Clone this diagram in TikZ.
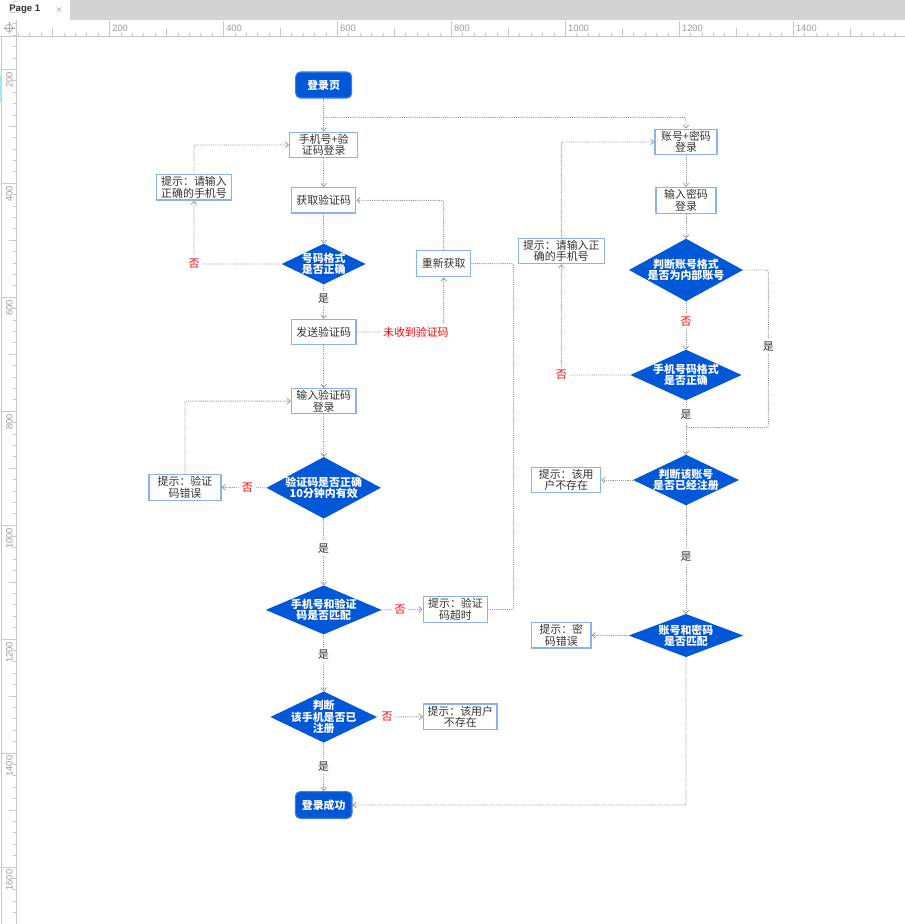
\documentclass[tikz,border=0pt]{standalone}
\usepackage{fontspec}
\setmainfont{Liberation Sans}
\newfontfamily\cjk{Noto Sans CJK SC}
\usetikzlibrary{arrows.meta,backgrounds,calc}
\definecolor{fcblue}{HTML}{0057D8}
\definecolor{termedge}{HTML}{3F7FE0}
\definecolor{boxblue}{HTML}{8CB2EE}
\definecolor{conngray}{HTML}{9A9A9A}
\definecolor{textdark}{HTML}{333333}
\definecolor{nored}{HTML}{FF0000}
\definecolor{tabgray}{HTML}{D3D3D3}
\definecolor{rulerln}{HTML}{C8C8C8}
\definecolor{rulertx}{HTML}{9A9A9A}
\tikzset{
  base/.style={inner sep=0pt, align=center, font=\cjk\fontsize{8.2}{8.6}\selectfont},
  wh/.style 2 args={minimum width=#1*0.75pt, minimum height=#2*0.75pt},
  box/.style={base, rectangle, draw=boxblue, line width=1pt, fill=white, text=textdark},
  term/.style={base, rectangle, rounded corners=3.5pt, fill=fcblue, draw=termedge, line width=0.8pt, text=white, font=\cjk\bfseries\fontsize{8.2}{8.6}\selectfont},
  dec/.style={base, rectangle, text=white, font=\cjk\bfseries\fontsize{8.2}{8.6}\selectfont},
  conn/.style={draw=conngray, line width=0.7pt, dash pattern=on 0.7pt off 0.7pt, rounded corners=1.5pt},
  arr/.style={conn, -{Straight Barb[length=2.4pt,width=4.2pt,line width=0.6pt]}},
  yes/.style={base, fill=white, inner sep=2pt, text=textdark},
  no/.style={yes, text=nored},
  rulerline/.style={draw=rulerln, line width=0.6pt},
  rulertext/.style={inner sep=0pt, text=rulertx, font=\fontsize{7}{8}\selectfont},
}
\begin{document}
\begin{tikzpicture}[x=0.75pt,y=-0.75pt]
\useasboundingbox (0,0) rectangle (905,924);
% ---------- editor chrome ----------
\fill[tabgray] (0,0) rectangle (905,20);
\fill[white] (0,0) rectangle (70,20);
\node[anchor=west, inner sep=0pt, text=textdark, font=\bfseries\fontsize{7.2}{8}\selectfont] (tab) at (9,9.5) {Page 1};
\node[inner sep=0pt, text=gray!70, font=\fontsize{8}{9}\selectfont] (tabx) at (59,10.5) {×};
\draw[rulerline] (0,36) -- (905,36);
\foreach \u in {20,40,...,1600} {
  \pgfmathsetmacro\xx{-4.35+0.5697*\u}
  \draw[rulerline] (\xx,32.7) -- (\xx,36);
}
\foreach \u in {100,300,...,1500} {
  \pgfmathsetmacro\xx{-4.35+0.5697*\u}
  \draw[rulerline] (\xx,28.5) -- (\xx,36);
}
\foreach \u in {200,400,...,1400} {
  \pgfmathsetmacro\xx{-4.35+0.5697*\u}
  \draw[rulerline] (\xx,21) -- (\xx,36);
  \node[rulertext, anchor=west] (hr\u) at (\xx+2.5,28.5) {\u};
}
\fill[white] (0,20) rectangle (16.7,36);
\draw[rulerline] (16.7,20) -- (16.7,924);
\draw[rulerline] (1.5,36) -- (1.5,924);
\foreach \u in {20,40,...,1700} {
  \pgfmathsetmacro\yy{-44.6+0.5697*\u}
  \draw[rulerline] (12.7,\yy) -- (16.7,\yy);
}
\foreach \u in {100,300,...,1700} {
  \pgfmathsetmacro\yy{-44.6+0.5697*\u}
  \draw[rulerline] (8.5,\yy) -- (16.7,\yy);
}
\foreach \u in {200,400,...,1600} {
  \pgfmathsetmacro\yy{-44.6+0.5697*\u}
  \draw[rulerline] (1.5,\yy) -- (16.7,\yy);
  \node[rulertext, rotate=90, anchor=east] (vr\u) at (9.5,\yy+2.5) {\u};
}
\draw[cyan!35, line width=1pt] (1,75) -- (1,102);
\draw[gray!70, line width=0.5pt] (9,28) circle[radius=3.8];
\draw[gray!70, line width=0.5pt] (3.5,28) -- (14.5,28) (9,22.5) -- (9,33.5);
% ---------- left column ----------
\node[term, wh={56}{26}] (start) at (323.7,85) {登录页};
\node[box, wh={68}{25.5}] (phone) at (323.7,145) {手机号+验\\证码登录};
\node[box, wh={74.6}{25.7}] (hint1) at (194,187.2) {提示：请输入\\正确的手机号};
\node[box, wh={64}{25.3}] (get) at (323.7,200.4) {获取验证码};
\node[dec, wh={83.4}{40}] (d1) at (323.7,264) {号码格式\\是否正确};
\node[box, wh={54}{26}] (again) at (443.7,263.7) {重新获取};
\node[box, wh={64.7}{25.3}] (send) at (323.7,332) {发送验证码};
\node[box, wh={64.4}{25}] (input) at (323.7,401.2) {输入验证码\\登录};
\node[dec, wh={113.7}{61}] (d2) at (323.7,487.8) {验证码是否正确\\10分钟内有效};
\node[box, wh={72}{26}] (errhint) at (185,487.3) {提示：验证\\码错误};
\node[dec, wh={115.4}{48.3}] (d3) at (323.7,609.9) {手机号和验证\\码是否匹配};
\node[box, wh={64.4}{25.6}] (timeout) at (455.5,609.5) {提示：验证\\码超时};
\node[dec, wh={106}{50.6}] (d4) at (323.7,717) {判断\\该手机是否已\\注册};
\node[box, wh={73.3}{25.7}] (nouser) at (460.3,716.8) {提示：该用户\\不存在};
\node[term, wh={56.6}{26.6}] (success) at (323.7,805) {登录成功};
% ---------- right column ----------
\node[box, wh={62}{25.4}] (acct) at (686,142) {账号+密码\\登录};
\node[box, wh={86}{25.4}] (hint2) at (561.3,251) {提示：请输入正\\确的手机号};
\node[box, wh={60}{25.6}] (pwd) at (686,200.5) {输入密码\\登录};
\node[dec, wh={113.3}{62}] (r1) at (686,270) {判断账号格式\\是否为内部账号};
\node[dec, wh={110.7}{50}] (r2) at (686,375) {手机号码格式\\是否正确};
\node[dec, wh={105.3}{50}] (r3) at (686,480) {判断该账号\\是否已经注册};
\node[box, wh={69}{25.4}] (nouser2) at (566.2,480) {提示：该用\\户不存在};
\node[dec, wh={114}{42.4}] (r4) at (686,635.5) {账号和密码\\是否匹配};
\node[box, wh={59.3}{25.3}] (pwderr) at (561.3,635.3) {提示：密\\码错误};
\begin{pgfonlayer}{background}
\foreach \n in {d1,d2,d3,d4,r1,r2,r3,r4}
  \fill[fcblue] (\n.north) -- (\n.east) -- (\n.south) -- (\n.west) -- cycle;
\end{pgfonlayer}
% ---------- connectors ----------
\coordinate (branch) at (323.7,117.3);
\coordinate (merge) at (686,427.7);
\coordinate (rturn) at (768.3,427.7);
\draw[arr] (start) -- (phone);
\draw[arr] (branch) -| (acct);
\draw[arr] (phone) -- (get);
\draw[arr] (get) -- (d1);
\draw[arr] (d1.west) -| node[no] {否} (hint1.south);
\draw[arr] (hint1.north) |- (phone.west);
\draw[arr] (d1) -- node[yes, pos=0.42] {是} (send);
\draw[arr] (send.east) -| node[no, pos=0.34] {未收到验证码} (again.south);
\draw[arr] (again.north) |- (get.east);
\draw[conn] (again.east) -- ++(42.3,0) |- (timeout.east);
\draw[arr] (send) -- (input);
\draw[arr] (errhint.north) |- (input.west);
\draw[arr] (input) -- (d2);
\draw[arr] (d2.west) -- node[no, pos=0.43] {否} (errhint.east);
\draw[arr] (d2) -- node[yes, pos=0.445] {是} (d3);
\draw[arr] (d3.east) -- node[no, pos=0.45] {否} (timeout.west);
\draw[arr] (d3) -- node[yes, pos=0.36] {是} (d4);
\draw[arr] (d4.east) -- node[no, pos=0.22] {否} (nouser.west);
\draw[arr] (d4) -- node[yes, pos=0.49] {是} (success);
\draw[arr] (acct) -- (pwd);
\draw[arr] (pwd) -- (r1);
\draw[arr] (r1) -- node[no, pos=0.42] {否} (r2);
\draw[conn] (r1.east) -| node[yes, pos=0.743] {是} (rturn) -- (merge);
\draw[arr] (r2) -- node[yes, pos=0.27] {是} (r3);
\draw[arr] (r2.west) -| node[no] {否} (hint2.south);
\draw[arr] (hint2.north) |- (acct.west);
\draw[arr] (r3.west) -- (nouser2.east);
\draw[arr] (r3) -- node[yes, pos=0.47] {是} (r4);
\draw[arr] (r4.west) -- (pwderr.east);
\draw[arr] (r4.south) |- (success.east);
\end{tikzpicture}
\end{document}
